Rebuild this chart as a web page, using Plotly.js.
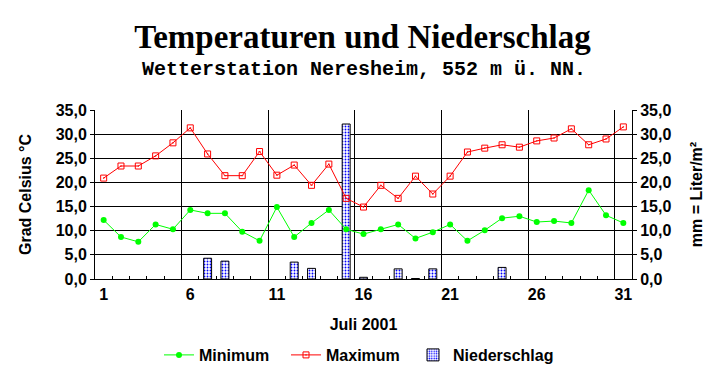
<!DOCTYPE html>
<html>
<head>
<meta charset="utf-8">
<script src="https://cdn.plot.ly/plotly-3.0.1.min.js"></script>
<style>html,body{margin:0;padding:0;background:#fff;}#chart{width:725px;height:384px;}</style>
</head>
<body>
<div id="chart"></div>
<script>
var days = [1,2,3,4,5,6,7,8,9,10,11,12,13,14,15,16,17,18,19,20,21,22,23,24,25,26,27,28,29,30,31];
var dayLabels = [1,6,11,16,21,26,31];
var minimum = [12.2, 8.7, 7.7, 11.3, 10.3, 14.3, 13.6, 13.6, 9.8, 7.9, 14.9, 8.7, 11.6, 14.3, 10.3, 9.3, 10.3, 11.3, 8.4, 9.7, 11.3, 7.9, 10.1, 12.6, 13.0, 11.8, 12.0, 11.6, 18.4, 13.2, 11.6];
var maximum = [20.9, 23.4, 23.4, 25.5, 28.2, 31.3, 25.9, 21.4, 21.4, 26.4, 21.5, 23.6, 19.4, 23.8, 16.7, 14.9, 19.4, 16.7, 21.3, 17.6, 21.3, 26.3, 27.1, 27.8, 27.3, 28.6, 29.2, 31.1, 27.8, 29.0, 31.5];
var niederschlag = [null, null, null, null, null, null, 4.3, 3.7, null, null, null, 3.5, 2.2, null, 32.1, 0.35, null, 2.1, 0.1, 2.1, null, null, null, 2.4, null, null, null, null, null, null, null];

var first = days[0], last = days[days.length - 1];
var boundaries = [];
for (var i = 0; i < dayLabels.length - 1; i++) boundaries.push(dayLabels[i + 1] - 0.5);

var fontBase = {family: 'Liberation Sans, Arial, sans-serif', size: 16, color: '#000', weight: 'bold'};

var traces = [
  {
    type: 'bar', x: days, y: niederschlag, name: 'Niederschlag', xaxis: 'x', yaxis: 'y',
    width: 0.46, legend: 'legend3',
    marker: {color: '#ffffff', line: {color: '#000', width: 1},
      pattern: {shape: '.', fgcolor: '#0000ff', bgcolor: '#ffffff', size: 3, solidity: 0.3}}
  },
  {
    type: 'scatter', mode: 'lines+markers', x: days, y: minimum, name: 'Minimum', legend: 'legend',
    xaxis: 'x2', yaxis: 'y2',
    line: {color: '#00ff00', width: 1},
    marker: {color: '#00ff00', size: 6, symbol: 'circle'}
  },
  {
    type: 'scatter', mode: 'lines+markers', x: days, y: maximum, name: 'Maximum', legend: 'legend2',
    xaxis: 'x3', yaxis: 'y2',
    line: {color: '#ff0000', width: 1},
    marker: {color: '#ff0000', size: 6, symbol: 'square-open-dot', line: {color: '#ff0000', width: 1}}
  }
];

var xr = [first - 0.5, last + 0.5];
var layout = {
  width: 725, height: 384,
  margin: {l: 95, r: 93, t: 110, b: 105, pad: 0},
  paper_bgcolor: '#fff', plot_bgcolor: '#fff',
  separators: ',.',
  font: fontBase,
  showlegend: true,
  title: {
    text: 'Temperaturen und Niederschlag',
    font: {family: 'Liberation Serif, Times New Roman, serif', size: 33, color: '#000', weight: 'bold'},
    x: 0.5, xref: 'container', xanchor: 'center',
    y: 1 - 36 / 384, yref: 'container', yanchor: 'middle'
  },
  annotations: [{
    text: 'Wetterstation Neresheim, 552 m ü. NN.',
    xref: 'paper', yref: 'paper', x: 0.5, y: (279 - 70) / 169, xanchor: 'center', yanchor: 'middle',
    showarrow: false,
    font: {family: 'Liberation Mono, Courier New, monospace', size: 20, color: '#000', weight: 'bold'}
  }],
  xaxis: {
    range: xr, anchor: 'y',
    tickmode: 'array', tickvals: dayLabels, ticktext: dayLabels.map(String),
    ticks: '', ticklabelstandoff: 1, showgrid: false, zeroline: false,
    showline: true, linecolor: '#000', linewidth: 1,
    tickfont: fontBase,
    title: {text: 'Juli 2001', font: fontBase, standoff: 16}
  },
  xaxis2: {
    range: xr, overlaying: 'x', anchor: 'y', side: 'bottom',
    tickmode: 'linear', tick0: first - 0.5, dtick: 1,
    ticks: 'inside', ticklen: 3, tickcolor: '#000', tickwidth: 1,
    showticklabels: false, showgrid: false, zeroline: false, showline: false
  },
  xaxis3: {
    range: xr, overlaying: 'x', anchor: 'y', side: 'bottom',
    tickmode: 'array', tickvals: boundaries, ticks: '', showticklabels: false,
    showgrid: true, gridcolor: '#000', gridwidth: 1, zeroline: false, showline: false
  },
  yaxis: {
    range: [0, 35], tickmode: 'linear', tick0: 0, dtick: 5, tickformat: '.1f',
    ticks: 'outside', ticklen: 4, tickcolor: '#000',
    showgrid: true, gridcolor: '#000', gridwidth: 1, zeroline: false,
    showline: true, linecolor: '#000', linewidth: 1,
    tickfont: fontBase,
    title: {text: 'Grad Celsius °C', font: fontBase, standoff: 20}
  },
  yaxis2: {
    range: [0, 35], overlaying: 'y', side: 'right', anchor: 'x',
    tickmode: 'linear', tick0: 0, dtick: 5, tickformat: '.1f',
    ticks: 'outside', ticklen: 4, tickcolor: '#000',
    showgrid: false, zeroline: false,
    showline: true, linecolor: '#000', linewidth: 1,
    tickfont: fontBase,
    title: {text: 'mm = Liter/m²', font: fontBase, standoff: 20}
  },
  legend: {x: (159 - 95) / 537, y: (279 - 355) / 169, xanchor: 'left', yanchor: 'middle', orientation: 'h', bgcolor: 'rgba(0,0,0,0)', font: fontBase},
  legend2: {x: (286 - 95) / 537, y: (279 - 355) / 169, xanchor: 'left', yanchor: 'middle', orientation: 'h', bgcolor: 'rgba(0,0,0,0)', font: fontBase},
  legend3: {x: (413 - 95) / 537, y: (279 - 355) / 169, xanchor: 'left', yanchor: 'middle', orientation: 'h', bgcolor: 'rgba(0,0,0,0)', font: fontBase}
};

Plotly.newPlot('chart', traces, layout, {staticPlot: true, displayModeBar: false});
</script>
</body>
</html>
